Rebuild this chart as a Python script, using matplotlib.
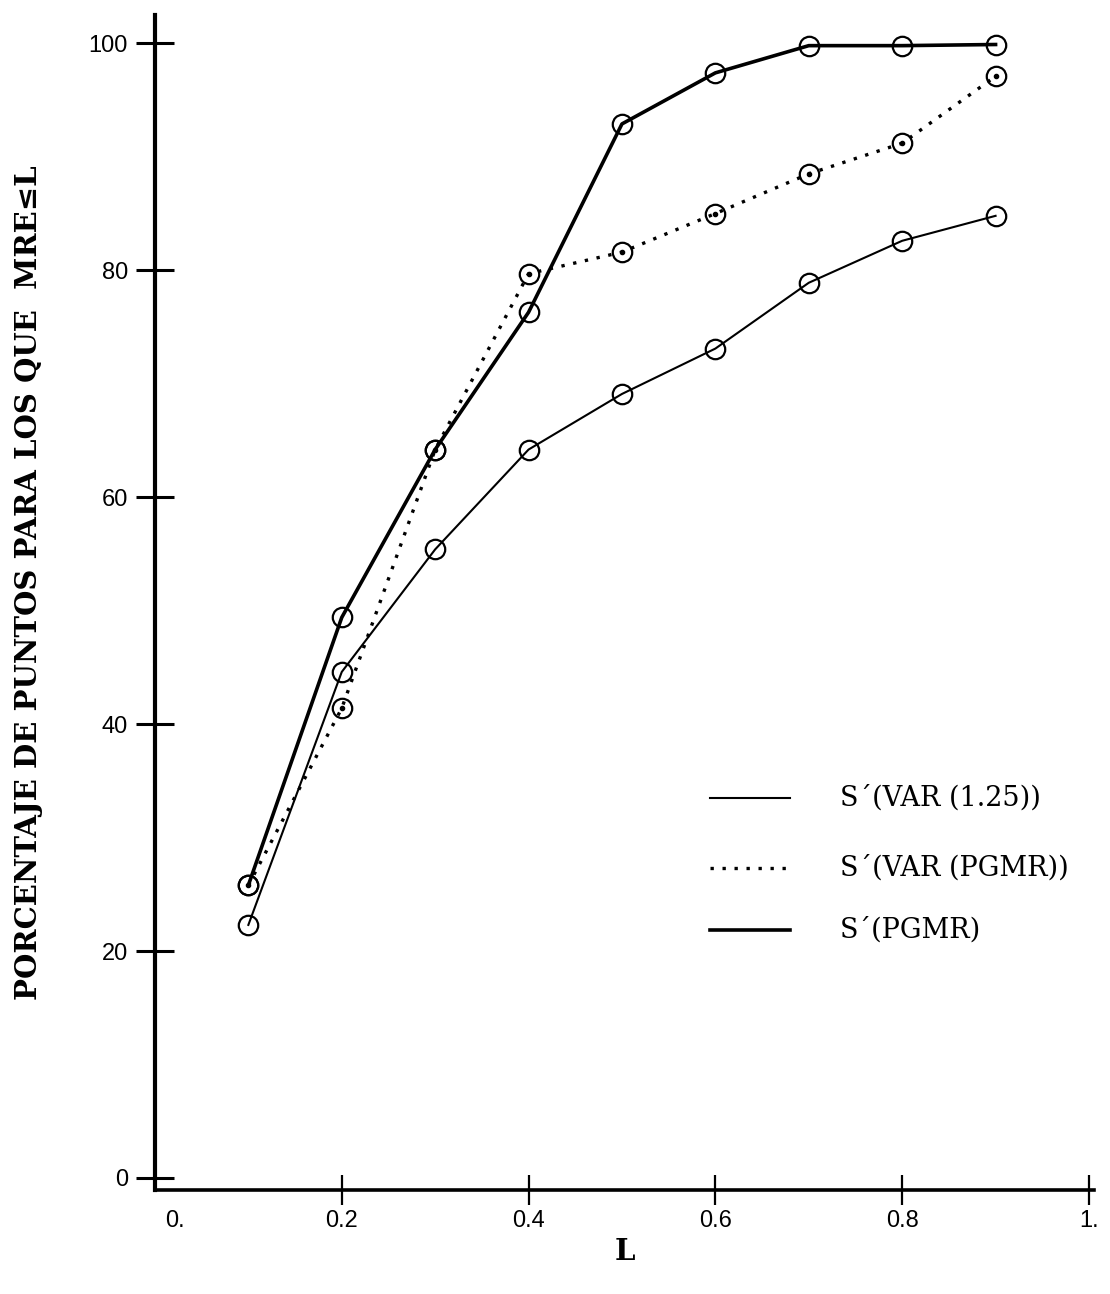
import matplotlib
matplotlib.use("Agg")
import matplotlib.pyplot as plt

# datos
L = [0.1, 0.2, 0.3, 0.4, 0.5, 0.6, 0.7, 0.8, 0.9]
var_125 = [22.3, 44.6, 55.4, 64.2, 69.1, 73.1, 78.9, 82.6, 84.8]
var_pgmr = [25.8, 41.4, 64.2, 79.7, 81.6, 85.0, 88.5, 91.2, 97.1]
pgmr = [25.8, 49.4, 64.2, 76.3, 92.9, 97.4, 99.8, 99.8, 99.9]

xticks = [0.2, 0.4, 0.6, 0.8, 1.0]
xlabels = ['0.2', '0.4', '0.6', '0.8', '1.']
yticks = [0, 20, 40, 60, 80, 100]

leyenda = ["S\u00b4(VAR (1.25))", "S\u00b4(VAR (PGMR))", "S\u00b4(PGMR)"]

fig = plt.figure(figsize=(11.10, 12.94), dpi=100)
ax = fig.add_axes([0.1396, 0.0804, 0.8460, 0.9080])

mk = dict(marker='o', markersize=14, markerfacecolor='none',
          markeredgecolor='black', markeredgewidth=1.6, color='black')

ax.plot(L, var_125, lw=1.5, **mk)
ax.plot(L, var_pgmr, lw=2.4, linestyle=(0, (1, 2.6)), **mk)
ax.plot(L, pgmr, lw=2.6, **mk)
# punto central de los circulos de la serie punteada
ax.plot(L, var_pgmr, linestyle='none', marker='o', markersize=3, color='black')

ax.set_xlim(0, 1.0054)
ax.set_ylim(-1.06, 102.5)

for s in ['top', 'right']:
    ax.spines[s].set_visible(False)
ax.spines['left'].set_linewidth(3)
ax.spines['bottom'].set_linewidth(2.6)

ax.set_yticks(yticks)
ax.set_yticklabels([str(v) for v in yticks], fontsize=17, family='Liberation Sans')
ax.tick_params(axis='y', direction='inout', length=27, width=2.2, pad=6)

ax.set_xticks(xticks)
ax.set_xticklabels(xlabels, fontsize=17, family='Liberation Sans')
ax.tick_params(axis='x', direction='inout', length=21, width=1.6, pad=4)
# etiqueta "0." alineada a la izquierda como en el original
ax.text(0.011, -0.017, '0.', transform=ax.transAxes, ha='left', va='top',
        fontsize=17, family='Liberation Sans')

ax.set_ylabel("PORCENTAJE DE PUNTOS PARA LOS QUE  MRE\u2264L",
              family='DejaVu Serif', fontweight='bold', fontsize=21)
ax.yaxis.set_label_coords(-0.119, 0.5166)
ax.set_xlabel("L", family='DejaVu Serif', fontweight='bold', fontsize=21)
ax.xaxis.set_label_coords(0.5005, -0.040)

# leyenda dibujada a mano como en el original
estilos = [dict(lw=1.5, ls='-'), dict(lw=2.4, ls=(0, (1, 2.6))), dict(lw=2.6, ls='-')]
ys = [0.3336, 0.274, 0.2213]
for txt, st, yy in zip(leyenda, estilos, ys):
    ax.plot([0.591, 0.676], [yy, yy], transform=ax.transAxes, color='black', **st)
    ax.text(0.729, yy, txt, transform=ax.transAxes, va='center', ha='left',
            fontsize=19.5, family='DejaVu Serif')

fig.savefig("out.png", dpi=100)
